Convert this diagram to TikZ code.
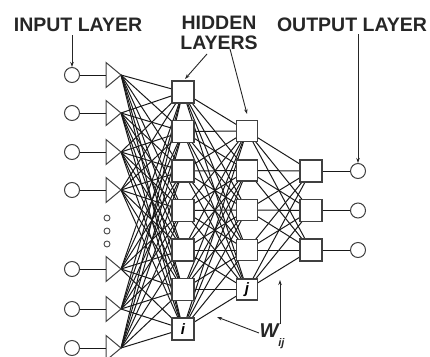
\documentclass[tikz,border=0pt]{standalone}
\usepackage{fontspec}
\setmainfont{Liberation Sans}
\usetikzlibrary{arrows.meta,backgrounds}
\tikzset{
  conn/.style={line width=1pt, draw=black!90},
  unitbox/.style={draw=black!75, fill=white, line width=1.2pt, minimum size=22pt, inner sep=0pt, font=\fontsize{15}{15}\selectfont\bfseries\itshape},
  inpc/.style={circle, draw=black!75, fill=white, minimum size=15pt, inner sep=0pt, line width=1pt},
  dotc/.style={circle, draw=black!70, fill=white, minimum size=6pt, inner sep=0pt, line width=0.9pt},
  tri/.style={draw=black!75, fill=white, line width=1pt, line join=miter},
  lbl/.style={font=\fontsize{19.5}{20}\selectfont\bfseries, text=black!85, align=center, inner sep=0pt},
  ptr/.style={-{Stealth[length=5pt,width=3.5pt]}, line width=0.9pt, draw=black!85}
}
\begin{document}
\begin{tikzpicture}[x=1pt,y=-1pt]
\useasboundingbox (0,0) rectangle (430,356);
% labels
\node[lbl] (lin) at (78,25) {INPUT LAYER};
\node[lbl] (lhid) at (219,33) {HIDDEN\\LAYERS};
\node[lbl] (lout) at (352,25) {OUTPUT LAYER};
% input layer
\foreach \y [count=\k] in {75,113,152,190,269,309,348} {
  \node[inpc] (c\k) at (72,\y) {};
  \coordinate (b\k) at (106,\y);
  \coordinate (t\k) at (121,\y);
  \draw[tri] (t\k) -- ++(-15,-12.5) -- ++(0,25) -- cycle;
  \draw[conn] (c\k) -- (b\k);
}
\foreach \y [count=\k] in {218,231,244} {
  \node[dotc] (d\k) at (107,\y) {};
}
% hidden layer 1
\foreach \y [count=\k] in {92,131.5,171,210.5,250,289.5} {
  \node[unitbox] (h\k) at (183,\y) {};
}
\node[unitbox] (h7) at (183,329) {i};
% hidden layer 2
\foreach \y [count=\k] in {131,170.5,210,250} {
  \node[unitbox, minimum size=21pt] (g\k) at (247,\y) {};
}
\node[unitbox, minimum size=21pt] (g5) at (247,289.5) {j};
% output layer
\foreach \y [count=\k] in {171,210.5,250} {
  \node[unitbox] (o\k) at (311,\y) {};
  \node[inpc] (e\k) at (358,\y) {};
  \draw[conn] (o\k) -- (e\k);
}
% connections
\begin{pgfonlayer}{background}
\foreach \a in {1,...,7} {
  \foreach \b in {1,...,7} {
    \draw[conn] (t\a) -- (h\b.center);
  }
}
\foreach \a in {1,...,7} {
  \foreach \b in {1,...,5} {
    \draw[conn] (h\a.center) -- (g\b.center);
  }
}
\foreach \a in {1,...,5} {
  \foreach \b in {1,...,3} {
    \draw[conn] (g\a.center) -- (o\b.center);
  }
}
\end{pgfonlayer}
% pointers
\coordinate (pin) at (72,35);
\draw[ptr] (pin) -- (c1.north);
\coordinate (ph1s) at (207,54);
\coordinate (ph1e) at (185,79);
\draw[ptr] (ph1s) -- (ph1e);
\coordinate (ph2s) at (230,49);
\coordinate (ph2e) at (247,114);
\draw[ptr] (ph2s) -- (ph2e);
\coordinate (pout) at (358,34);
\draw[ptr] (pout) -- (e1.north);
% weight label
\node[font=\fontsize{20}{20}\selectfont\bfseries\itshape, text=black!85, inner sep=0pt] (w) at (272,336) {W\raisebox{-0.45em}{\fontsize{11}{11}\selectfont ij}};
\coordinate (pw1s) at (259,333);
\coordinate (pw1e) at (217,317);
\draw[ptr] (pw1s) -- (pw1e);
\coordinate (pw2s) at (280,324);
\coordinate (pw2e) at (280,280);
\draw[ptr] (pw2s) -- (pw2e);
\end{tikzpicture}
\end{document}
